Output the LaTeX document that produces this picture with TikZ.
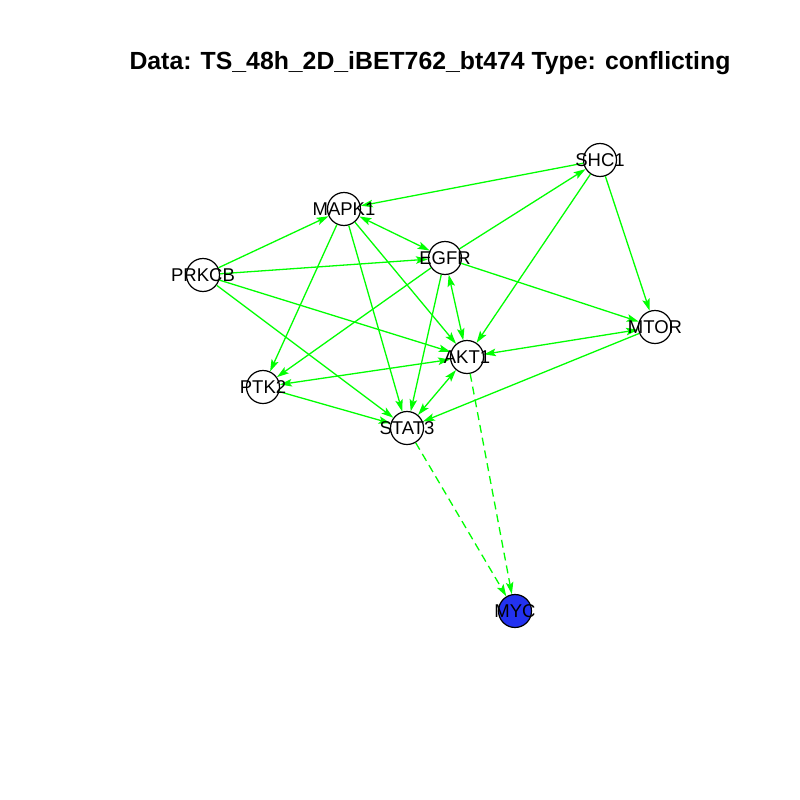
\documentclass[tikz,border=0pt]{standalone}
\usepackage{fontspec}
\setmainfont{Liberation Sans}
\usetikzlibrary{arrows.meta}
\definecolor{edgegreen}{RGB}{0,255,0}
\definecolor{mycblue}{RGB}{35,50,240}
\tikzset{
  vtx/.style={circle, draw=black, line width=1.2pt, fill=white, minimum size=33pt, inner sep=0pt},
  vlabel/.style={font=\fontsize{18.5}{20}\selectfont, inner sep=0pt},
  tip/.style={},
  edge/.style={draw=edgegreen, line width=1.3pt, -{Stealth[length=12pt,width=7.5pt,inset=2.5pt]}},
  biedge/.style={draw=edgegreen, line width=1.3pt, {Stealth[length=12pt,width=7.5pt,inset=2.5pt]}-{Stealth[length=12pt,width=7.5pt,inset=2.5pt]}},
  dedge/.style={edge, dash pattern=on 8pt off 5pt},
}
\begin{document}
\begin{tikzpicture}[x=1pt,y=-1pt]
\useasboundingbox (0,0) rectangle (800,800);
\fill[white] (0,0) rectangle (800,800);

\node[font=\bfseries\fontsize{24.8}{26}\selectfont, inner sep=0pt] (title) at (430,63) {Data: TS\_48h\_2D\_iBET762\_bt474 Type: conflicting};

% vertices
\node[vtx] (shc1)  at (600,160) {};
\node[vtx] (mapk1) at (344,209) {};
\node[vtx] (egfr)  at (445,258) {};
\node[vtx] (prkcb) at (203,275) {};
\node[vtx] (mtor)  at (655,327) {};
\node[vtx] (akt1)  at (467,357) {};
\node[vtx] (ptk2)  at (263,387) {};
\node[vtx] (stat3) at (407,428) {};
\node[vtx, fill=mycblue] (myc) at (515,611) {};

% interactions
\draw[edge]   (shc1) -- (mapk1);
\draw[edge]   (egfr) -- (shc1);
\draw[biedge] (mapk1) -- (egfr);
\draw[edge]   (shc1) -- (akt1);
\draw[edge]   (shc1) -- (mtor);
\draw[edge]   (prkcb) -- (mapk1);
\draw[edge]   (prkcb) -- (egfr);
\draw[edge]   (prkcb) -- (akt1);
\draw[edge]   (prkcb) -- (stat3);
\draw[edge]   (mapk1) -- (ptk2);
\draw[edge]   (mapk1) -- (stat3);
\draw[edge]   (mapk1) -- (akt1);
\draw[edge]   (egfr) -- (ptk2);
\draw[edge]   (egfr) -- (stat3);
\draw[biedge] (egfr) -- (akt1);
\draw[edge]   (egfr) -- (mtor);
\draw[biedge] (akt1) -- (mtor);
\draw[biedge] (akt1) -- (ptk2);
\draw[biedge] (akt1) -- (stat3);
\draw[edge]   (mtor) -- (stat3);
\draw[edge]   (ptk2) -- (stat3);
\draw[dedge]  (akt1) -- (myc);
\draw[dedge]  (stat3) -- (myc);

% vertex names
\node[vlabel] (lshc1)  at (shc1)  {SHC1};
\node[vlabel] (lmapk1) at (mapk1) {MAPK1};
\node[vlabel] (legfr)  at (egfr)  {EGFR};
\node[vlabel] (lprkcb) at (prkcb) {PRKCB};
\node[vlabel] (lmtor)  at (mtor)  {MTOR};
\node[vlabel] (lakt1)  at (akt1)  {AKT1};
\node[vlabel] (lptk2)  at (ptk2)  {PTK2};
\node[vlabel] (lstat3) at (stat3) {STAT3};
\node[vlabel] (lmyc)   at (myc)   {MYC};
\end{tikzpicture}
\end{document}
